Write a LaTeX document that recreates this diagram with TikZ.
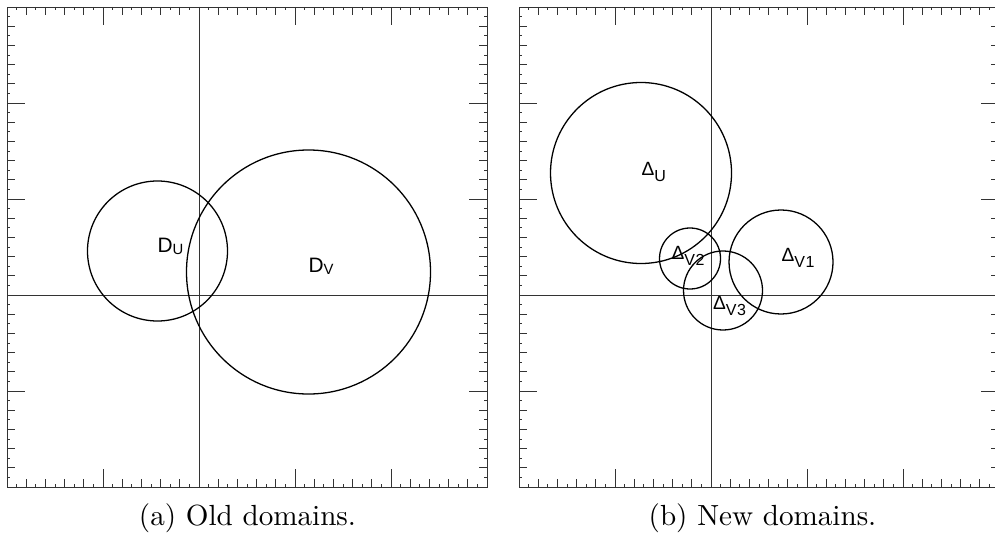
\documentclass[tikz,border=0pt]{standalone}
\usepackage{fontspec}
\newfontfamily\lsans{Liberation Sans}
\newcommand{\Dlab}[2]{{\fontsize{7.3}{8}\selectfont #1}\raisebox{-1pt}{\fontsize{5.2}{6}\selectfont #2}}
\newcommand{\Glab}[2]{{\fontsize{6.7}{7}\selectfont #1}\raisebox{-2.2pt}{\fontsize{5.6}{6}\selectfont #2}}
\begin{document}
\begin{tikzpicture}[x=0.35pt,y=-0.35pt,
  frame/.style={line width=0.32pt,black!80},
  ring/.style={line width=0.45pt,black},
  lbl/.style={inner sep=0pt,anchor=base west,font=\lsans},
  capt/.style={inner sep=0pt,anchor=base,font=\fontsize{10.2}{12}\selectfont}]
\useasboundingbox (0,0) rectangle (995,537);
\clip (0,0) rectangle (995,537);
\foreach \ox in {7,519}{
  \draw[frame] (\ox,7) rectangle ++(480,480);
  \draw[frame] (\ox+192,7) -- (\ox+192,487);
  \draw[frame] (\ox,295) -- (\ox+480,295);
  \foreach \i in {1,...,49}{
    \pgfmathsetmacro\len{mod(\i,10)==0 ? 18 : (mod(\i,2)==0 ? 8 : 3)}
    \pgfmathsetmacro\p{\i*9.6}
    \draw[frame] (\ox+\p,7) -- ++(0,\len);
    \draw[frame] (\ox+\p,487) -- ++(0,-\len);
    \draw[frame] (\ox,7+\p) -- ++(\len,0);
    \draw[frame] (\ox+480,7+\p) -- ++(-\len,0);
  }
}
% old domains
\draw[ring] (157.5,251) circle[radius=70];
\draw[ring] (308.5,272) circle[radius=122];
\node[lbl] (du) at (157,252) {\Dlab{D}{U}};
\node[lbl] (dv) at (308,272) {\Dlab{D}{V}};
% new domains
\draw[ring] (641,173) circle[radius=90.5];
\draw[ring] (690,258.5) circle[radius=30.5];
\draw[ring] (723,290.5) circle[radius=39.5];
\draw[ring] (781,262) circle[radius=52];
\node[lbl] (gu) at (641,175) {\Glab{Δ}{U}};
\node[lbl] (gv2) at (671,259) {\Glab{Δ}{V\kern0.2pt2}};
\node[lbl] (gv1) at (781,261.7) {\Glab{Δ}{V\kern0.2pt1}};
\node[lbl] (gv3) at (712.5,309) {\Glab{Δ}{V\kern0.2pt3}};
% captions
\node[capt] (ca) at (247.5,525.7) {(a) Old domains.};
\node[capt] (cb) at (762.5,525.7) {(b) New domains.};
\end{tikzpicture}
\end{document}
